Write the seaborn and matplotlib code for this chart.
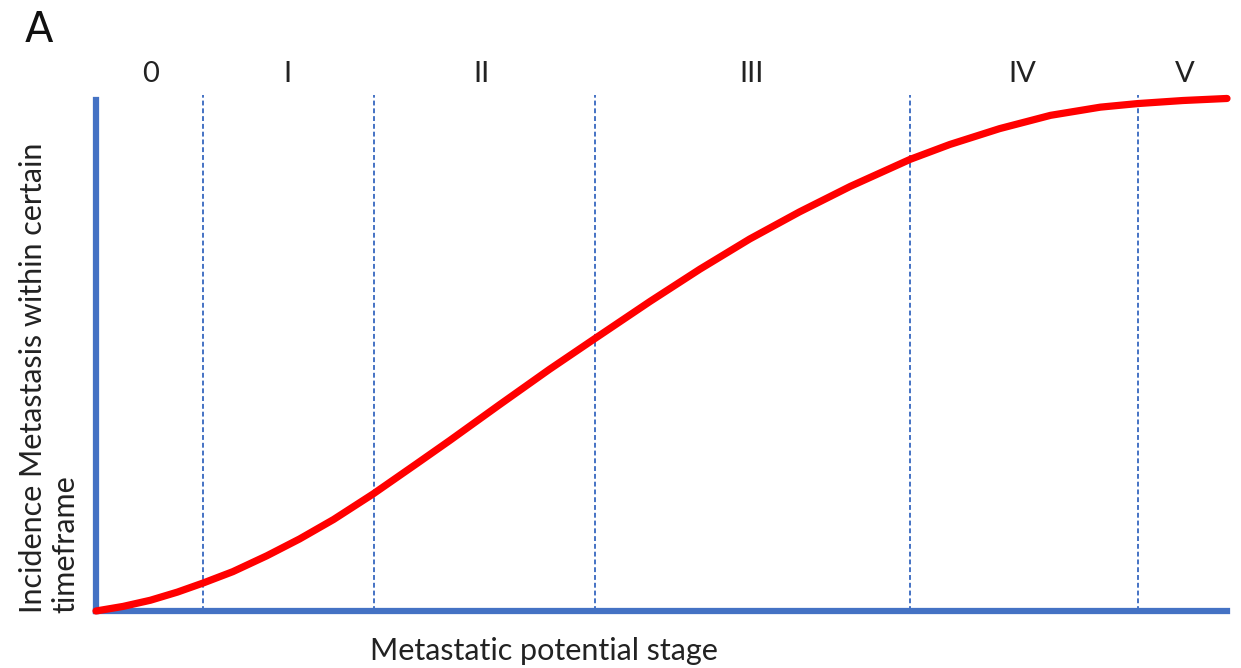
import numpy as np
import pandas as pd
import seaborn as sns
import matplotlib.pyplot as plt

# Curve: position along the stage axis (0-100) vs incidence (0-100)
stage_pos = [0, 2.4, 4.8, 7.2, 9.5, 12.1, 15.1, 18.0, 21.0, 24.5, 28.4, 31.3,
             35.7, 40.1, 44.1, 49.0, 53.4, 57.8, 62.2, 66.7, 72.0, 75.5, 79.9,
             84.4, 88.8, 92.1, 96.1, 100]
incidence = [0, 0.9, 2.1, 3.7, 5.5, 7.7, 10.8, 14.1, 17.9, 22.9, 28.9, 33.4,
             40.4, 47.3, 53.3, 60.6, 66.9, 72.8, 78.1, 83.1, 88.4, 91.3, 94.4,
             97.0, 98.6, 99.3, 99.9, 100.3]

# Stage boundaries (dashed lines) and stage labels
boundaries = [9.5, 24.6, 44.1, 72.0, 92.1]
stage_labels = ["0", "I", "II", "III", "IV", "V"]
label_pos = [4.8, 16.9, 34.1, 58.0, 81.9, 96.3]

blue = "#4472C4"
red = "#FF0000"

sns.set_style("white")
plt.rcParams['font.family'] = ['Lato', 'DejaVu Sans']

fig = plt.figure(figsize=(12.41, 6.68), dpi=100)
ax = fig.add_axes([96 / 1241, 1 - 611 / 668, (1227 - 96) / 1241, (611 - 100) / 668])

df = pd.DataFrame({"stage": stage_pos, "incidence": incidence})
sns.lineplot(data=df, x="stage", y="incidence", ax=ax, color=red, linewidth=5.2,
             clip_on=False, zorder=3)

for b in boundaries:
    ax.axvline(b, ymin=0, ymax=1.01, color=blue, linestyle=(0, (2.5, 1.5)),
               linewidth=1.4, clip_on=False, zorder=2)

for lab, xp in zip(stage_labels, label_pos):
    ax.text(xp, 105, lab, ha="center", va="center", fontsize=21, color="#222222",
            clip_on=False)

ax.set_xlim(0, 100)
ax.set_ylim(0, 100)
ax.set_xticks([])
ax.set_yticks([])
ax.set_xlabel("")
ax.set_ylabel("")
sns.despine(ax=ax)
for side in ["left", "bottom"]:
    ax.spines[side].set_color(blue)
    ax.spines[side].set_linewidth(4.5)

fig.text(49 / 1241, 1 - 613 / 668, "Incidence Metastasis within certain\ntimeframe",
         rotation=90, ha="center", va="bottom", multialignment="left",
         fontsize=22, color="#222222")
fig.text(544 / 1241, 1 - 651 / 668, "Metastatic potential stage", ha="center",
         va="center", fontsize=22, color="#222222")
fig.text(25 / 1241, 1 - 30 / 668, "A", ha="left", va="center", fontsize=30,
         family=["DejaVu Sans"], color="#111111")

fig.savefig("out.png", dpi=100, facecolor="white")
